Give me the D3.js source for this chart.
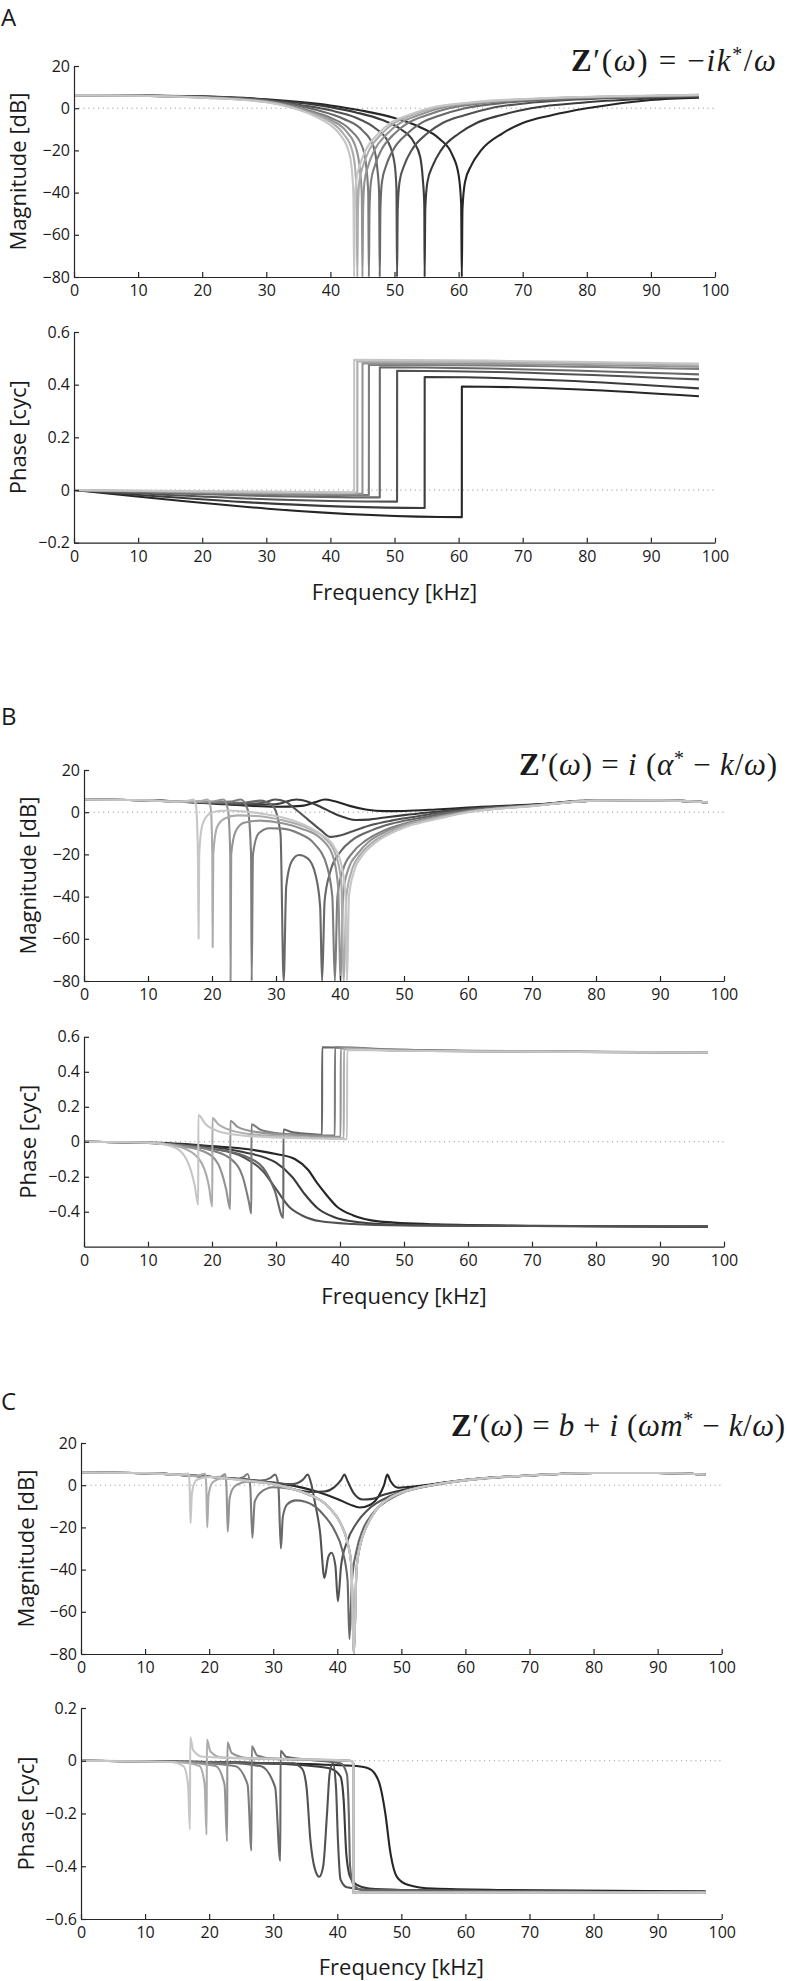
<!DOCTYPE html>
<html>
<head>
<meta charset="utf-8">
<script src="https://cdn.jsdelivr.net/npm/d3@7"></script>
<style>
  body { margin: 0; background: #fff; }
  svg text { font-family: "Open Sans", "Noto Sans", sans-serif; fill: #1a1a1a; }
</style>
</head>
<body>
<svg id="fig" width="787" height="1981"></svg>
<script>
// ---- tick labels ----
const freqTicks = [0, 10, 20, 30, 40, 50, 60, 70, 80, 90, 100];
const magTicks = [20, 0, -20, -40, -60, -80];
const phaseTicksA = [0.6, 0.4, 0.2, 0, -0.2];
const phaseTicksB = [0.6, 0.4, 0.2, 0, -0.2, -0.4];
const phaseTicksC = [0.2, 0, -0.2, -0.4, -0.6];

// ---- panel A : stiffness, curves dark -> light ----
const magA = [
  [[0,6.1],[10,6],[20,5.6],[30,4.2],[40,1.3],[45,-1.2],[50,-4.7],[54,-9],[57,-14.5],[59,-22],[60,-31.6],[60.4,-45.6],[60.5,-80],[60.6,-48],[61,-35],[62,-27],[63.5,-20],[66.8,-12],[70,-7],[74.5,-3.3],[80,0],[90,3.9],[97.5,5]],
  [[0,6.1],[10,6],[20,5.5],[30,4],[40,0.5],[44,-2],[48,-5.5],[51,-10],[53,-16],[54,-23],[54.4,-33],[54.65,-46],[54.7,-80],[54.8,-48],[55.13,-35],[56,-27],[57.25,-20],[60.05,-12],[62.8,-7],[66.6,-3.3],[71.3,0],[80,2.8],[90,4.6],[97.5,5.4]],
  [[0,6.1],[10,5.9],[20,5.4],[30,3.7],[36,1.2],[40,-1],[44,-4.5],[47,-9.5],[49,-16],[50,-26],[50.3,-38],[50.4,-80],[50.5,-48],[50.78,-35],[51.53,-27],[52.65,-20],[55.1,-12],[57.5,-7],[60.9,-3.3],[65,0],[72,2.8],[82,4.6],[90,5.2],[97.5,5.7]],
  [[0,6.1],[10,5.9],[20,5.3],[30,3.5],[35,1.2],[38,-1],[42,-5],[45,-10.5],[46.7,-18],[47.3,-28],[47.6,-40],[47.7,-80],[47.8,-48],[48.04,-35],[48.72,-27],[49.74,-20],[52,-12],[54.2,-7],[57.2,-3.3],[61,0],[68,2.8],[78,4.6],[90,5.5],[97.5,5.9]],
  [[0,6.1],[10,5.9],[20,5.2],[30,3.3],[34,1],[37,-1.5],[40,-4.5],[43,-10],[45,-18.5],[45.6,-28],[45.9,-40],[46,-80],[46.1,-48],[46.32,-35],[46.96,-27],[47.92,-20],[50.03,-12],[52.1,-7],[55,-3.3],[58.5,0],[65,2.8],[75,4.6],[90,5.7],[97.5,6.1]],
  [[0,6.1],[10,5.9],[20,5.1],[30,3.1],[34,0.7],[37,-2],[40,-5.5],[42.5,-11],[44,-19],[44.6,-29],[44.9,-41],[45,-80],[45.1,-48],[45.31,-35],[45.93,-27],[46.86,-20],[48.9,-12],[50.9,-7],[53.7,-3.3],[57.1,0],[64,2.8],[74,4.6],[90,5.8],[97.5,6.2]],
  [[0,6.1],[10,5.9],[20,5],[30,3],[34,0.5],[37,-2.5],[40,-6.5],[42,-12],[43.4,-20],[43.9,-30],[44.1,-42],[44.2,-80],[44.3,-48],[44.5,-35],[45.12,-27],[46.03,-20],[48.04,-12],[50,-7],[52.7,-3.3],[56.1,0],[63,2.8],[73,4.6],[90,5.9],[97.5,6.3]],
  [[0,6.1],[10,5.9],[20,5],[30,2.8],[34,0.2],[37,-3],[39.5,-7],[41.5,-12.5],[42.9,-21],[43.4,-31],[43.6,-43],[43.7,-80],[43.8,-48],[44,-35],[44.6,-27],[45.5,-20],[47.5,-12],[49.4,-7],[52.1,-3.3],[55.4,0],[62,2.8],[72,4.6],[90,6],[97.5,6.3]]
];
const phaseA = [
  [[0,0],[60.5,-0.103],[60.51,0.393],[97.5,0.356]],
  [[0,0],[54.7,-0.068],[54.71,0.429],[97.5,0.386]],
  [[0,0],[50.4,-0.044],[50.41,0.453],[97.5,0.42]],
  [[0,0],[47.7,-0.028],[47.71,0.466],[97.5,0.439]],
  [[0,0],[46,-0.019],[46.01,0.476],[97.5,0.46]],
  [[0,0],[45,-0.014],[45.01,0.482],[97.5,0.468]],
  [[0,0],[44.2,-0.011],[44.21,0.489],[97.5,0.474]],
  [[0,0],[43.7,-0.009],[43.71,0.494],[97.5,0.48]]
];

// ---- panel B : mass-less resonator, curves dark -> light ----
const magB = [
  [[0,6],[10,5.6],[15,5],[20,4.2],[25,3.2],[30,2.6],[34,3],[36.2,4.8],[37.6,6],[39.2,5.2],[41.5,3],[44,1.3],[47,0.5],[50,0.6],[55,1.3],[60,2.2],[70,3.6],[80,5.6],[90,5.6],[97.5,4.6]],
  [[0,6],[10,5.6],[15,5],[20,4.3],[25,3.6],[30,3.8],[33.2,6],[35,5],[37,2.5],[39,-0.5],[41,-2.8],[42.5,-3.7],[44.5,-3.5],[47,-2.5],[50,-1.4],[55,0.2],[60,1.7],[70,3.4],[80,5.5],[90,5.6],[97.5,4.6]],
  [[0,6],[10,5.6],[15,5],[20,4.5],[25,4],[28,4.5],[29.8,6],[31.5,5],[33,1.5],[35,-3.5],[37,-8.5],[38.5,-11.7],[40,-11],[42,-9],[45,-6],[48,-4],[52,-2],[56,0],[60,1.3],[70,3.3],[80,5.5],[90,5.6],[97.5,4.6]],
  [[0,6],[10,5.6],[15,5],[20,4.6],[25,4.5],[27.5,5.5],[29.5,3],[30.7,-10],[31.2,-80],[31.6,-35],[32.5,-23],[33.6,-20.3],[35,-22],[36.2,-30],[36.9,-45],[37.2,-80],[37.6,-42],[38.5,-28],[40,-19],[42,-13],[45,-8.5],[48,-5.5],[52,-3],[56,-0.8],[60,0.9],[70,3.2],[80,5.5],[90,5.6],[97.5,4.6]],
  [[0,6],[10,5.6],[15,5],[20,4.8],[23,5],[24.5,6],[25.6,1],[26.1,-20],[26.2,-80],[26.4,-20],[27.3,-10],[29,-7.6],[31,-7.8],[33.5,-10],[36,-15],[37.8,-24],[38.8,-40],[39.2,-80],[39.6,-40],[40.5,-27],[42,-19],[44,-13.5],[47,-8.5],[50,-5.5],[55,-2.2],[60,0.5],[70,3.1],[80,5.5],[90,5.6],[97.5,4.6]],
  [[0,6],[10,5.6],[15,5],[20,5],[21.8,6],[22.5,1],[22.85,-20],[22.9,-80],[23,-20],[23.7,-9],[25,-5],[27.5,-4],[31,-5.2],[34,-7.8],[37,-12.5],[38.8,-20],[39.7,-35],[40.1,-80],[40.5,-38],[41.3,-27],[42.8,-19.5],[44.5,-14],[47,-9.5],[50,-6],[55,-2.5],[60,0.3],[70,3],[80,5.5],[90,5.6],[97.5,4.6]],
  [[0,6],[10,5.6],[15,5],[18,5.2],[19.3,6],[19.8,2],[20.05,-20],[20.1,-64],[20.2,-20],[20.8,-7],[22,-3],[24,-1.5],[27,-1.8],[31,-3.8],[35,-7.5],[37.5,-12],[39.3,-20],[40.2,-33],[40.6,-80],[41,-40],[41.8,-28],[43.2,-20],[45,-14.5],[47.5,-10],[50,-6.5],[55,-2.8],[60,0.1],[70,3],[80,5.5],[90,5.6],[97.5,4.6]],
  [[0,6],[10,5.6],[14,5],[16,5.3],[17.1,6],[17.5,3],[17.8,-20],[17.9,-60],[18,-20],[18.5,-6],[19.5,-1],[21,0.6],[22.5,0.8],[25,0.3],[28,-0.8],[31,-2.5],[34,-5.5],[37,-10.5],[39,-16],[40.3,-26],[40.9,-42],[41.1,-80],[41.4,-40],[42.2,-28],[43.5,-20.5],[45.3,-15],[48,-10],[50.5,-6.8],[55.5,-3],[60,0],[70,2.9],[80,5.5],[90,5.6],[97.5,4.6]]
];
const phaseB = [
  [[0,0],[10,-0.005],[15,-0.012],[20,-0.025],[25,-0.04],[30,-0.07],[33,-0.1],[35,-0.16],[36.5,-0.24],[37.8,-0.3],[39.5,-0.37],[42,-0.42],[46,-0.455],[55,-0.472],[70,-0.48],[97.5,-0.485]],
  [[0,0],[10,-0.006],[15,-0.015],[20,-0.03],[25,-0.06],[30,-0.12],[32.5,-0.2],[34.5,-0.3],[36.5,-0.38],[39,-0.43],[43,-0.46],[50,-0.475],[70,-0.482],[97.5,-0.485]],
  [[0,0],[10,-0.007],[15,-0.02],[20,-0.04],[25,-0.09],[28,-0.17],[30,-0.27],[32,-0.37],[34,-0.42],[37,-0.455],[42,-0.47],[50,-0.478],[70,-0.482],[97.5,-0.485]],
  [[0,0],[10,-0.007],[15,-0.02],[20,-0.04],[25,-0.08],[28,-0.15],[29.8,-0.28],[31.15,-0.435],[31.16,0.07],[32.5,0.055],[35,0.045],[37.2,0.04],[37.21,0.54],[45,0.53],[60,0.52],[97.5,0.51]],
  [[0,0],[10,-0.006],[15,-0.02],[20,-0.05],[23,-0.1],[24.8,-0.2],[25.8,-0.35],[26.15,-0.41],[26.16,0.1],[27.5,0.07],[30,0.05],[34,0.04],[39.2,0.035],[39.21,0.54],[50,0.525],[70,0.515],[97.5,0.51]],
  [[0,0],[10,-0.006],[15,-0.025],[19,-0.06],[21,-0.13],[22.2,-0.27],[22.85,-0.385],[22.86,0.12],[24,0.085],[27,0.055],[32,0.04],[37,0.03],[40.1,0.028],[40.11,0.535],[50,0.52],[70,0.515],[97.5,0.51]],
  [[0,0],[10,-0.005],[15,-0.03],[18,-0.1],[19.5,-0.25],[20.05,-0.37],[20.06,0.135],[21,0.1],[23,0.065],[27,0.04],[32,0.03],[37,0.022],[40.6,0.02],[40.61,0.53],[50,0.52],[70,0.515],[97.5,0.51]],
  [[0,0],[10,-0.005],[14,-0.03],[16,-0.1],[17.3,-0.25],[17.85,-0.36],[17.86,0.152],[19,0.1],[21,0.06],[25,0.035],[30,0.025],[35,0.02],[41.1,0.015],[41.11,0.525],[50,0.52],[70,0.515],[97.5,0.51]]
];

// ---- panel C : full resonator, curves dark -> light ----
const magC = [
  [[0,6],[10,5.7],[15,5],[20,4],[25,2.8],[30,1.2],[34,-0.8],[37,-3.2],[40,-6.5],[42,-9.2],[43.5,-10.6],[45,-9.5],[46.5,-5],[47.3,0],[47.8,5],[48.3,2],[49.5,-1.2],[51,-0.9],[55,0.6],[60,2.6],[70,4.6],[80,5.8],[90,5.8],[97.5,5.1]],
  [[0,6],[10,5.7],[15,5],[20,4],[25,2.8],[30,0.9],[33,-1.8],[36,-3.2],[38,-3],[39.5,-1],[40.6,2.5],[41.1,5],[41.6,2],[42.5,-3.5],[44,-6.8],[45.5,-6.5],[47,-4.8],[50,-2.4],[55,0.4],[60,2.5],[70,4.6],[80,5.8],[90,5.8],[97.5,5.1]],
  [[0,6],[10,5.7],[15,5],[20,4],[25,2.8],[30,1.2],[33,0.5],[34.6,2.5],[35.4,5],[35.9,1],[36.5,-8],[37.3,-22],[38,-44],[38.6,-34],[39.1,-32],[39.7,-38],[40.1,-55],[40.6,-38],[41.5,-27],[43,-18],[45,-11],[48,-5.5],[50,-3.2],[55,0.2],[60,2.4],[70,4.6],[80,5.8],[90,5.8],[97.5,5.1]],
  [[0,6],[10,5.7],[15,5],[20,4],[25,2.8],[28,2.2],[29.6,3.5],[30.3,5],[30.8,0],[31.2,-30],[31.5,-15],[32.2,-9],[33.5,-7.2],[35,-7.8],[36.5,-10],[38,-14.5],[39.5,-21],[40.8,-31],[41.6,-45],[41.9,-73],[42.3,-45],[43,-31],[44,-21],[45.5,-13.5],[48,-7],[50,-3.8],[55,0],[60,2.3],[70,4.6],[80,5.8],[90,5.8],[97.5,5.1]],
  [[0,6],[10,5.7],[15,5],[20,3.9],[24,3],[25.3,3.8],[26,5.3],[26.4,0],[26.75,-25],[27.1,-8],[28,-3.5],[30,-1],[33,-1.8],[35,-3.8],[37,-6.5],[38,-8.5],[39,-11.5],[40.5,-18],[41.5,-26],[42.2,-38],[42.6,-80],[43,-40],[43.7,-27],[44.5,-20],[46,-12],[48,-6.5],[50,-3.5],[53,-1],[57,1.2],[62,3],[70,4.6],[80,5.8],[90,5.8],[97.5,5.1]],
  [[0,6],[10,5.7],[15,5],[20,3.9],[21.8,4],[22.5,5.3],[22.7,0],[22.9,-22],[23.2,-6],[24,-0.5],[26,1.6],[30,0.5],[33,-1.8],[35,-3.8],[37,-6.5],[38,-8.5],[39,-11.5],[40.5,-18],[41.5,-26],[42.2,-38],[42.6,-80],[43,-40],[43.7,-27],[44.5,-20],[46,-12],[48,-6.5],[50,-3.5],[53,-1],[57,1.2],[62,3],[70,4.6],[80,5.8],[90,5.8],[97.5,5.1]],
  [[0,6],[10,5.7],[15,5],[18,4.4],[19.4,5.4],[19.55,0],[19.7,-20],[19.9,-5],[20.5,1.2],[22,3.2],[25,2.4],[30,0.5],[33,-1.8],[35,-3.8],[37,-6.5],[38,-8.5],[39,-11.5],[40.5,-18],[41.5,-26],[42.2,-38],[42.6,-80],[43,-40],[43.7,-27],[44.5,-20],[46,-12],[48,-6.5],[50,-3.5],[53,-1],[57,1.2],[62,3],[70,4.6],[80,5.8],[90,5.8],[97.5,5.1]],
  [[0,6],[10,5.7],[15,5],[16.8,5.5],[16.95,0],[17.1,-18],[17.3,-4],[18,2.5],[20,3.9],[25,2.4],[30,0.5],[33,-1.8],[35,-3.8],[37,-6.5],[38,-8.5],[39,-11.5],[40.5,-18],[41.5,-26],[42.2,-38],[42.6,-80],[43,-40],[43.7,-27],[44.5,-20],[46,-12],[48,-6.5],[50,-3.5],[53,-1],[57,1.2],[62,3],[70,4.6],[80,5.8],[90,5.8],[97.5,5.1]]
];
const phaseC = [
  [[0,0],[20,-0.005],[30,-0.01],[38,-0.015],[43,-0.02],[45,-0.03],[46.5,-0.08],[47.5,-0.2],[48.3,-0.35],[49.3,-0.44],[51,-0.47],[55,-0.485],[65,-0.49],[97.5,-0.495]],
  [[0,0],[20,-0.005],[30,-0.01],[36,-0.02],[39,-0.03],[40.5,-0.06],[41,-0.15],[41.4,-0.35],[42,-0.44],[43,-0.47],[45,-0.485],[50,-0.49],[97.5,-0.5]],
  [[0,0],[20,-0.005],[30,-0.01],[33,-0.01],[34.5,-0.03],[35.2,-0.1],[35.8,-0.3],[36.5,-0.41],[37.2,-0.44],[37.8,-0.4],[38.4,-0.2],[38.8,-0.05],[39.3,-0.01],[39.8,-0.1],[40.1,-0.3],[40.5,-0.45],[41.5,-0.48],[45,-0.49],[97.5,-0.5]],
  [[0,0],[20,-0.005],[28,-0.02],[30.3,-0.1],[31.1,-0.38],[31.15,0.038],[32,0.015],[35,0.005],[40.5,-0.01],[41.5,-0.05],[41.8,-0.2],[42,-0.4],[42.5,-0.47],[44,-0.49],[97.5,-0.5]],
  [[0,0],[15,-0.005],[24,-0.02],[26,-0.09],[26.6,-0.34],[26.65,0.055],[27.5,0.02],[30,0.008],[42,0],[42.5,-0.01],[42.51,-0.5],[60,-0.5],[97.5,-0.5]],
  [[0,0],[15,-0.005],[21,-0.02],[22.4,-0.09],[22.8,-0.305],[22.85,0.07],[23.5,0.03],[26,0.01],[42,0],[42.5,-0.01],[42.51,-0.5],[60,-0.5],[97.5,-0.5]],
  [[0,0],[15,-0.005],[18.5,-0.02],[19.3,-0.09],[19.6,-0.28],[19.65,0.08],[20.2,0.035],[22,0.012],[42,0],[42.5,-0.01],[42.51,-0.5],[60,-0.5],[97.5,-0.5]],
  [[0,0],[14,-0.005],[16,-0.02],[16.7,-0.09],[17,-0.26],[17.05,0.09],[17.5,0.04],[19,0.015],[42,0],[42.5,-0.01],[42.51,-0.5],[60,-0.5],[97.5,-0.5]]
];

// shades for each series, dark -> light
const shades = ['#262626', '#3b3b3b', '#525252', '#686868', '#7d7d7d', '#949494', '#acacac', '#c6c6c6'];

const panels = [
  { label: 'A', labelY: 26, formula: [['Z','b'],['\u2032('],['ω','i'],[') = \u2212'],['ik','i'],['*','s'],['/'],['ω','i']],
    fx: 776, fy: 71, fw: 205, x0: 74, x1: 715, magTop: 66, magBot: 277, phTop: 332, phBot: 542.7,
    phDomain: [-0.2, 0.6], phTicks: phaseTicksA, mag: magA, phase: phaseA, ylx: 17, freqY: 600 },
  { label: 'B', labelY: 725, formula: [['Z','b'],['\u2032('],['ω','i'],[') = '],['i','i'],[' ('],['α','i'],['*','s'],[' \u2212 '],['k','i'],['/'],['ω','i'],[')']],
    fx: 777, fy: 775, fw: 258, x0: 84, x1: 724, magTop: 770, magBot: 981, phTop: 1036.8, phBot: 1246.7,
    phDomain: [-0.6, 0.6], phTicks: phaseTicksB, mag: magB, phase: phaseB, ylx: 26.5, freqY: 1304 },
  { label: 'C', labelY: 1410, formula: [['Z','b'],['\u2032('],['ω','i'],[') = '],['b','i'],[' + '],['i','i'],[' ('],['ωm','i'],['*','s'],[' \u2212 '],['k','i'],['/'],['ω','i'],[')']],
    fx: 785, fy: 1436, fw: 334, x0: 81, x1: 721.7, magTop: 1443, magBot: 1654, phTop: 1708, phBot: 1919,
    phDomain: [-0.6, 0.2], phTicks: phaseTicksC, mag: magC, phase: phaseC, ylx: 24.5, freqY: 1975 }
];

const svg = d3.select('#fig');
const fmt = d => (d < 0 ? '\u2212' : '') + Math.abs(d);

function drawPlot(p, data, yDomain, yTicks, top, bot, yLabel) {
  const x = d3.scaleLinear().domain([0, 100]).range([p.x0, p.x1]);
  const y = d3.scaleLinear().domain(yDomain).range([bot, top]);
  const g = svg.append('g');

  // dotted zero reference
  g.append('line')
    .attr('x1', x(0)).attr('x2', x(100))
    .attr('y1', y(0)).attr('y2', y(0))
    .attr('stroke', '#8a8a8a').attr('stroke-width', 1)
    .attr('stroke-dasharray', '1,3.8');

  const line = d3.line()
    .x(d => x(d[0]))
    .y(d => y(d[1]))
    .curve(d3.curveMonotoneX);

  g.selectAll('path.curve')
    .data(data)
    .enter().append('path')
    .attr('class', 'curve')
    .attr('d', line)
    .attr('fill', 'none')
    .attr('stroke', (d, i) => shades[i])
    .attr('stroke-width', 2.1)
    .attr('stroke-linejoin', 'round');

  // X axis, ticks pointing inwards
  const xAxis = d3.axisBottom(x).tickValues(freqTicks)
    .tickSizeInner(-5).tickSizeOuter(0).tickPadding(8).tickFormat(fmt);
  const gx = g.append('g').attr('transform', `translate(0,${bot})`).call(xAxis);

  // Y axis
  const yAxis = d3.axisLeft(y).tickValues(yTicks)
    .tickSizeInner(-5).tickSizeOuter(0).tickPadding(4).tickFormat(fmt);
  const gy = g.append('g').attr('transform', `translate(${p.x0},0)`).call(yAxis);

  [gx, gy].forEach(a => {
    a.attr('font-family', null).attr('font-size', null);
    a.selectAll('path, line').attr('stroke', '#262626').attr('stroke-width', 1.2);
    a.selectAll('text').style('font-size', '16px').attr('fill', '#1a1a1a');
  });

  g.append('text')
    .attr('transform', `translate(${p.ylx},${(top + bot) / 2}) rotate(-90)`)
    .attr('text-anchor', 'middle')
    .attr('dominant-baseline', 'central')
    .style('font-size', '22px')
    .text(yLabel);
}

panels.forEach(p => {
  svg.append('text')
    .attr('x', 1).attr('y', p.labelY)
    .style('font-size', '24px')
    .text(p.label);

  const f = svg.append('text')
    .attr('x', p.fx).attr('y', p.fy)
    .attr('text-anchor', 'end')
    .attr('textLength', p.fw)
    .attr('lengthAdjust', 'spacing')
    .style('font-family', '"Liberation Serif", "DejaVu Serif", serif')
    .style('font-size', '31px');
  let raised = false;
  p.formula.forEach(part => {
    const t = f.append('tspan').text(part[0]);
    if (part[1] === 'b') t.style('font-weight', 'bold');
    if (part[1] === 'i') t.style('font-style', 'italic');
    if (part[1] === 's') { t.attr('dy', -10).style('font-size', '20px'); raised = true; }
    else if (raised) { t.attr('dy', 10); raised = false; }
  });

  drawPlot(p, p.mag, [-80, 20], magTicks, p.magTop, p.magBot, 'Magnitude [dB]');
  drawPlot(p, p.phase, p.phDomain, p.phTicks, p.phTop, p.phBot, 'Phase [cyc]');

  svg.append('text')
    .attr('x', (p.x0 + p.x1) / 2).attr('y', p.freqY)
    .attr('text-anchor', 'middle')
    .style('font-size', '22px')
    .text('Frequency [kHz]');
});
</script>
</body>
</html>
